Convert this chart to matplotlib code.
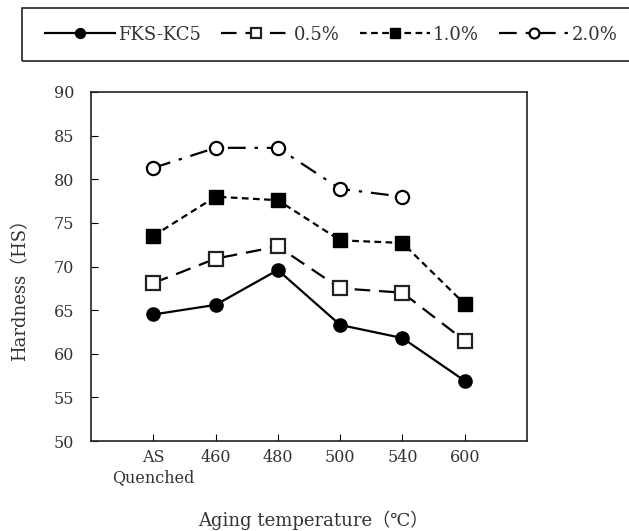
import matplotlib
matplotlib.use("Agg")
import matplotlib.pyplot as plt
from matplotlib.patches import Rectangle

categories = ["AS\nQuenched", "460", "480", "500", "540", "600"]
fks_kc5 = [64.5, 65.6, 69.6, 63.3, 61.8, 56.9]
p05 = [68.1, 70.9, 72.3, 67.5, 67.0, 61.5]
p10 = [73.5, 78.0, 77.6, 73.0, 72.7, 65.7]
p20 = [81.3, 83.6, 83.6, 78.9, 78.0]
yticks = [50, 55, 60, 65, 70, 75, 80, 85, 90]

plt.rcParams['font.family'] = ['DejaVu Serif', 'Noto Sans CJK JP', 'DejaVu Sans']
txt = '#333333'
W, H = 629, 531

fig = plt.figure(figsize=(6.29, 5.31), dpi=100)
ax = fig.add_axes([91/W, 1-441/H, (527-91)/W, (441-92)/H])

x = list(range(1, len(categories) + 1))
ms = 9.5
l1, = ax.plot(x, fks_kc5, color='black', lw=1.6, ls='-', marker='o', ms=ms,
              mfc='black', mec='black', label='FKS-KC5')
l2, = ax.plot(x, p05, color='black', lw=1.6, ls=(0, (7, 4)), marker='s', ms=ms,
              mfc='white', mec='#222222', mew=1.6, label='0.5%')
l3, = ax.plot(x, p10, color='black', lw=1.6, ls=(0, (3, 2)), marker='s', ms=ms,
              mfc='black', mec='black', label='1.0%')
l4, = ax.plot(x[:len(p20)], p20, color='black', lw=1.6, ls=(0, (8, 4, 1.5, 4)),
              marker='o', ms=ms, mfc='white', mec='black', mew=1.6, label='2.0%')

ax.set_xlim(0, 7)
ax.set_ylim(50, 90)
ax.set_yticks(yticks)
ax.set_xticks(x)
ax.set_xticklabels(categories, fontsize=11.5, color=txt, linespacing=1.2)
ax.tick_params(axis='y', labelsize=11.5, labelcolor=txt, direction='in', length=5, pad=12)
ax.tick_params(axis='x', direction='in', length=5, pad=6)
for s in ax.spines.values():
    s.set_linewidth(1.2)
    s.set_color('#222222')

fig.text(20/W, 1-285/H, 'Hardness（HS）', fontsize=13, color=txt,
         ha='center', va='center', rotation=90)
fig.text(313/W, 1-520/H, 'Aging temperature（℃）', fontsize=13, color=txt,
         ha='center', va='center')

fig.patches.append(Rectangle((22/W, 1-61/H), 640/W, 53/H, transform=fig.transFigure,
                             fill=False, edgecolor='#222222', lw=1.2))
leg = fig.legend(handles=[l1, l2, l3, l4], loc='center left', ncol=4,
                 bbox_to_anchor=(45/W, 1-34.5/H), frameon=False, fontsize=13,
                 handlelength=3.9, handletextpad=0.15, columnspacing=1.1,
                 borderpad=0, borderaxespad=0, markerscale=0.75)
for t in leg.get_texts():
    t.set_color(txt)

fig.savefig('out.png', dpi=100)
